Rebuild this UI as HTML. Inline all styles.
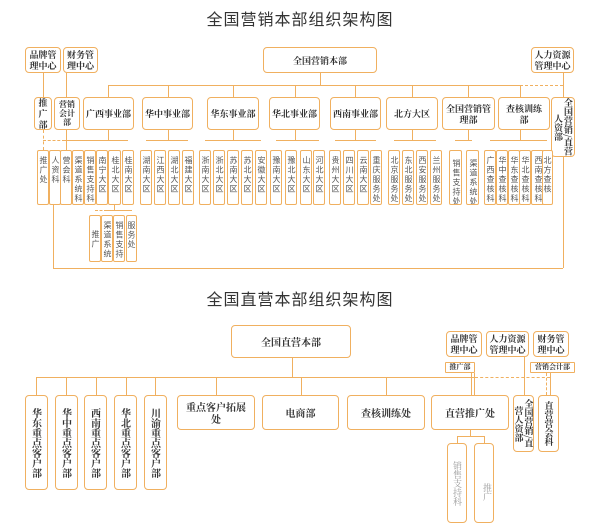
<!DOCTYPE html>
<html><head><meta charset="utf-8"><style>
body{margin:0;width:600px;height:531px;background:#fff;position:relative;overflow:hidden}
.t{position:absolute;left:0;width:600px;text-align:center;font-family:"Liberation Sans","Noto Sans CJK SC",sans-serif;font-size:16px;color:#333;letter-spacing:1px}
.b{position:absolute;box-sizing:border-box;border:1px solid #f0b060;border-radius:4px;background:#fff;display:flex;align-items:center;justify-content:center;text-align:center;font-family:"Noto Serif CJK SC",serif;font-weight:bold;font-size:9px;color:#333;line-height:11px}
.v{display:block;writing-mode:vertical-rl;font-family:"Noto Sans CJK SC",sans-serif;font-weight:normal;font-size:8px;color:#555;line-height:10px;border-radius:2px;text-align:left;padding-top:5px;white-space:nowrap;overflow:hidden;letter-spacing:1.5px}
.vs{writing-mode:vertical-rl;font-size:10px;line-height:12px}
.h{position:absolute;height:0;border-top:1px solid #f0b060}
.l{position:absolute;width:0;border-left:1px solid #f0b060}
.hd{position:absolute;height:0;border-top:1px dashed #f0b060}
.ld{position:absolute;width:0;border-left:1px dashed #f0b060}
</style></head><body>
<div class="t" style="top:6px">全国营销本部组织架构图</div>

<div class="b" style="left:25px;top:47px;width:36px;height:26px">品牌管<br>理中心</div>
<div class="b" style="left:63px;top:47px;width:35px;height:26px">财务管<br>理中心</div>
<div class="b" style="left:263px;top:47px;width:114px;height:26px">全国营销本部</div>
<div class="b" style="left:531px;top:47px;width:43px;height:26px">人力资源<br>管理中心</div>

<div class="l" style="left:43px;top:73px;height:24px"></div>
<div class="l" style="left:66px;top:73px;height:24px"></div>
<div class="l" style="left:320px;top:73px;height:12px"></div>
<div class="l" style="left:563px;top:73px;height:24px"></div>
<div class="h" style="left:108px;top:85px;width:412px"></div>
<div class="hd" style="left:520px;top:85px;width:43px"></div>

<div class="b" style="left:34px;top:97px;width:18px;height:33px">推<br>广<br>部</div>
<div class="b" style="left:54px;top:97px;width:26px;height:33px;font-size:8px;line-height:9px">营销<br>会计<br>部</div>
<div class="b" style="left:83px;top:97px;width:51px;height:33px">广西事业部</div>
<div class="b" style="left:142px;top:97px;width:51px;height:33px">华中事业部</div>
<div class="b" style="left:207px;top:97px;width:52px;height:33px">华东事业部</div>
<div class="b" style="left:269px;top:97px;width:51px;height:33px">华北事业部</div>
<div class="b" style="left:330px;top:97px;width:51px;height:33px">西南事业部</div>
<div class="b" style="left:386px;top:97px;width:52px;height:33px">北方大区</div>
<div class="b" style="left:442px;top:97px;width:53px;height:33px">全国营销管<br>理部</div>
<div class="b" style="left:498px;top:97px;width:52px;height:33px">查核训练<br>部</div>
<div class="b vs" style="left:551px;top:97px;width:24px;height:60px;font-size:9px;line-height:10px">全国营销/直营人资部</div>

<div class="l" style="left:108px;top:85px;height:12px"></div>
<div class="l" style="left:168px;top:85px;height:12px"></div>
<div class="l" style="left:233px;top:85px;height:12px"></div>
<div class="l" style="left:295px;top:85px;height:12px"></div>
<div class="l" style="left:355px;top:85px;height:12px"></div>
<div class="l" style="left:412px;top:85px;height:12px"></div>
<div class="l" style="left:468px;top:85px;height:12px"></div>
<div class="l" style="left:520px;top:85px;height:12px"></div>

<div class="l" style="left:108px;top:130px;height:10px"></div>
<div class="hd" style="left:43px;top:140px;width:22px"></div>
<div class="h" style="left:65px;top:140px;width:63px"></div>
<div class="ld" style="left:43px;top:130px;height:20px"></div>
<div class="l" style="left:66px;top:130px;height:20px"></div>
<div class="l" style="left:168px;top:130px;height:10px"></div>
<div class="h" style="left:146px;top:140px;width:42px"></div>
<div class="l" style="left:233px;top:130px;height:10px"></div>
<div class="h" style="left:205px;top:140px;width:56px"></div>
<div class="l" style="left:295px;top:130px;height:10px"></div>
<div class="h" style="left:276px;top:140px;width:43px"></div>
<div class="l" style="left:355px;top:130px;height:10px"></div>
<div class="h" style="left:335px;top:140px;width:41px"></div>
<div class="l" style="left:412px;top:130px;height:10px"></div>
<div class="h" style="left:394px;top:140px;width:42px"></div>
<div class="l" style="left:468px;top:130px;height:10px"></div>
<div class="h" style="left:455px;top:140px;width:17px"></div>
<div class="l" style="left:520px;top:130px;height:10px"></div>
<div class="h" style="left:490px;top:140px;width:57px"></div>

<div class="b v" style="left:37px;top:150px;width:12px;height:55px">推广处</div>
<div class="b v" style="left:49px;top:150px;width:12px;height:55px">人资科</div>
<div class="b v" style="left:60px;top:150px;width:12px;height:55px">营会科</div>
<div class="b v" style="left:72px;top:150px;width:12px;height:55px">渠道系统科</div>
<div class="b v" style="left:84px;top:150px;width:12px;height:55px">销售支持科</div>
<div class="b v" style="left:96px;top:150px;width:12px;height:55px">南宁大区</div>
<div class="b v" style="left:108px;top:150px;width:13px;height:55px">桂北大区</div>
<div class="b v" style="left:122px;top:150px;width:12px;height:55px">桂南大区</div>

<div class="b v" style="left:140px;top:150px;width:12px;height:55px">湖南大区</div>
<div class="b v" style="left:154px;top:150px;width:12px;height:55px">江西大区</div>
<div class="b v" style="left:168px;top:150px;width:12px;height:55px">湖北大区</div>
<div class="b v" style="left:182px;top:150px;width:12px;height:55px">福建大区</div>

<div class="b v" style="left:199px;top:150px;width:12px;height:55px">浙南大区</div>
<div class="b v" style="left:213px;top:150px;width:12px;height:55px">浙北大区</div>
<div class="b v" style="left:227px;top:150px;width:12px;height:55px">苏南大区</div>
<div class="b v" style="left:241px;top:150px;width:12px;height:55px">苏北大区</div>
<div class="b v" style="left:255px;top:150px;width:12px;height:55px">安徽大区</div>

<div class="b v" style="left:270px;top:150px;width:12px;height:55px">豫南大区</div>
<div class="b v" style="left:285px;top:150px;width:12px;height:55px">豫北大区</div>
<div class="b v" style="left:300px;top:150px;width:12px;height:55px">山东大区</div>
<div class="b v" style="left:313px;top:150px;width:12px;height:55px">河北大区</div>

<div class="b v" style="left:329px;top:150px;width:12px;height:55px">贵州大区</div>
<div class="b v" style="left:343px;top:150px;width:12px;height:55px">四川大区</div>
<div class="b v" style="left:357px;top:150px;width:12px;height:55px">云南大区</div>
<div class="b v" style="left:370px;top:150px;width:12px;height:55px">重庆服务处</div>

<div class="b v" style="left:388px;top:150px;width:12px;height:55px">北京服务处</div>
<div class="b v" style="left:402px;top:150px;width:12px;height:55px">东北服务处</div>
<div class="b v" style="left:416px;top:150px;width:12px;height:55px">西安服务处</div>
<div class="b v" style="left:430px;top:150px;width:12px;height:55px">兰州服务处</div>

<div class="b v" style="left:449px;top:150px;width:13px;height:55px;padding-top:8px">销售支持处</div>
<div class="b v" style="left:466px;top:150px;width:13px;height:55px;padding-top:8px">渠道系统处</div>

<div class="b v" style="left:484px;top:150px;width:12px;height:55px">广西查核科</div>
<div class="b v" style="left:496px;top:150px;width:12px;height:55px">华中查核科</div>
<div class="b v" style="left:508px;top:150px;width:12px;height:55px">华东查核科</div>
<div class="b v" style="left:519px;top:150px;width:12px;height:55px">华北查核科</div>
<div class="b v" style="left:531px;top:150px;width:13px;height:55px">西南查核科</div>
<div class="b v" style="left:542px;top:150px;width:11px;height:55px">北方查核</div>

<div class="l" style="left:114px;top:205px;height:5px"></div>
<div class="hd" style="left:95px;top:210px;width:12px"></div>
<div class="h" style="left:107px;top:210px;width:25px"></div>
<div class="b v" style="left:89px;top:215px;width:12px;height:47px;padding-top:14px">推广</div>
<div class="b v" style="left:101px;top:215px;width:12px;height:47px">渠道系统</div>
<div class="b v" style="left:113px;top:215px;width:12px;height:47px">销售支持</div>
<div class="b v" style="left:126px;top:215px;width:11px;height:47px">服务处</div>

<div class="l" style="left:53px;top:205px;height:63px"></div>
<div class="h" style="left:53px;top:268px;width:510px"></div>
<div class="l" style="left:563px;top:157px;height:111px"></div>

<div class="t" style="top:286px">全国直营本部组织架构图</div>
<div class="b" style="left:231px;top:325px;width:120px;height:33px;font-size:10px">全国直营本部</div>
<div class="b" style="left:446px;top:331px;width:36px;height:26px">品牌管<br>理中心</div>
<div class="b" style="left:486px;top:331px;width:43px;height:26px">人力资源<br>管理中心</div>
<div class="b" style="left:533px;top:331px;width:36px;height:26px">财务管<br>理中心</div>
<div class="b" style="left:445px;top:362px;width:30px;height:11px;font-size:7px;border-radius:1px">推广部</div>
<div class="b" style="left:530px;top:362px;width:45px;height:11px;font-size:7px;border-radius:1px">营销会计部</div>

<div class="l" style="left:292px;top:358px;height:19px"></div>
<div class="h" style="left:36px;top:377px;width:439px"></div>
<div class="hd" style="left:475px;top:377px;width:75px"></div>
<div class="l" style="left:471px;top:373px;height:22px"></div>
<div class="l" style="left:474px;top:373px;height:22px"></div>
<div class="l" style="left:524px;top:357px;height:38px"></div>
<div class="ld" style="left:546px;top:373px;height:22px"></div>
<div class="l" style="left:550px;top:373px;height:22px"></div>

<div class="l" style="left:36px;top:377px;height:18px"></div>
<div class="l" style="left:66px;top:377px;height:18px"></div>
<div class="l" style="left:96px;top:377px;height:18px"></div>
<div class="l" style="left:126px;top:377px;height:18px"></div>
<div class="l" style="left:155px;top:377px;height:18px"></div>
<div class="l" style="left:216px;top:377px;height:18px"></div>
<div class="l" style="left:301px;top:377px;height:18px"></div>
<div class="l" style="left:386px;top:377px;height:18px"></div>

<div class="b vs" style="left:25px;top:395px;width:23px;height:95px">华东重点客户部</div>
<div class="b vs" style="left:55px;top:395px;width:23px;height:95px">华中重点客户部</div>
<div class="b vs" style="left:84px;top:395px;width:23px;height:95px">西南重点客户部</div>
<div class="b vs" style="left:114px;top:395px;width:23px;height:95px">华北重点客户部</div>
<div class="b vs" style="left:144px;top:395px;width:23px;height:95px">川渝重点客户部</div>
<div class="b" style="left:177px;top:395px;width:78px;height:35px;font-size:10px;line-height:12px">重点客户拓展<br>处</div>
<div class="b" style="left:262px;top:395px;width:77px;height:35px;font-size:10px">电商部</div>
<div class="b" style="left:347px;top:395px;width:78px;height:35px;font-size:10px">查核训练处</div>
<div class="b" style="left:431px;top:395px;width:78px;height:35px;font-size:10px">直营推广处</div>
<div class="b vs" style="left:513px;top:395px;width:21px;height:57px;font-size:9px;line-height:10px">全国营销/直营人资部</div>
<div class="b vs" style="left:538px;top:395px;width:21px;height:57px;font-size:9px;line-height:10px">直营营会科</div>

<div class="l" style="left:470px;top:430px;height:6px"></div>
<div class="h" style="left:457px;top:436px;width:27px"></div>
<div class="l" style="left:457px;top:436px;height:7px"></div>
<div class="l" style="left:484px;top:436px;height:7px"></div>
<div class="b vs" style="left:447px;top:443px;width:20px;height:80px;font-weight:normal;color:#999;font-size:9px">销售支持科</div>
<div class="b vs" style="left:474px;top:443px;width:20px;height:80px;font-weight:normal;color:#999;font-size:9px;align-items:flex-start;padding-top:18px">推广</div>
</body></html>
